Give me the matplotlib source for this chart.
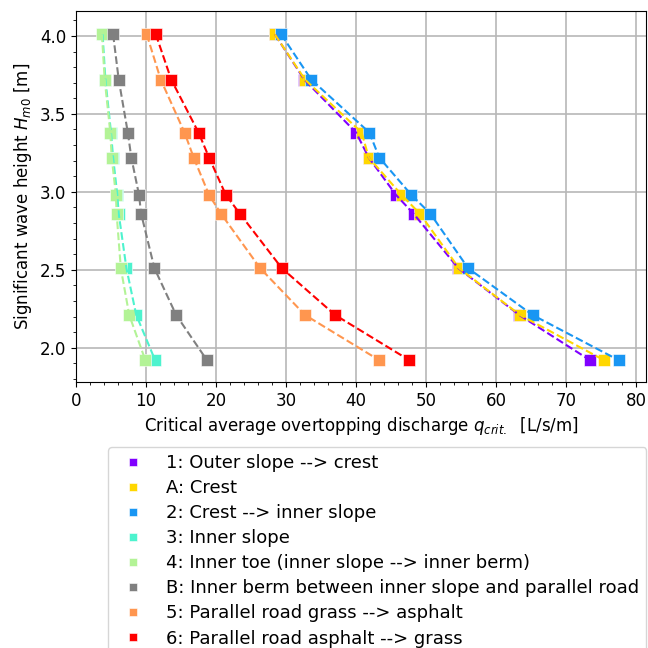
import numpy as np
import matplotlib
matplotlib.use("Agg")
import matplotlib.pyplot as plt
from matplotlib.ticker import MultipleLocator

# Wave heights (rows)
hm0 = [4.01, 3.72, 3.38, 3.22, 2.98, 2.86, 2.51, 2.21, 1.92]

labels = [
    "1: Outer slope --> crest",
    "A: Crest",
    "2: Crest --> inner slope",
    "3: Inner slope",
    "4: Inner toe (inner slope --> inner berm)",
    "B: Inner berm between inner slope and parallel road",
    "5: Parallel road grass --> asphalt",
    "6: Parallel road asphalt --> grass",
]

q_1_outer_crest = [28.4, 32.6, 40.0, 41.8, 45.7, 48.2, 54.6, 63.3, 73.4]
q_A_crest = [28.4, 32.7, 40.8, 41.8, 46.5, 49.1, 54.7, 63.4, 75.4]
q_2_crest_inner = [29.3, 33.6, 41.9, 43.3, 47.9, 50.6, 56.0, 65.2, 77.5]
q_3_inner_slope = [3.8, 4.2, 5.0, 5.3, 5.9, 6.1, 7.2, 8.6, 11.3]
q_4_inner_toe = [3.7, 4.1, 4.9, 5.1, 5.7, 5.8, 6.4, 7.6, 9.9]
q_B_inner_berm = [5.3, 6.1, 7.4, 7.9, 9.0, 9.3, 11.2, 14.3, 18.7]
q_5_road_grass_asphalt = [10.1, 12.1, 15.5, 16.8, 19.0, 20.7, 26.3, 32.7, 43.3]
q_6_road_asphalt_grass = [11.4, 13.6, 17.5, 19.0, 21.4, 23.4, 29.4, 37.0, 47.6]

series = [q_1_outer_crest, q_A_crest, q_2_crest_inner, q_3_inner_slope,
          q_4_inner_toe, q_B_inner_berm, q_5_road_grass_asphalt,
          q_6_road_asphalt_grass]

rb = plt.cm.rainbow(np.linspace(0, 1, 6))
colors = [rb[0], "gold", rb[1], rb[2], rb[3], "gray", rb[4], rb[5]]

plt.rcParams['font.family'] = ['DejaVu Sans']
plt.rcParams['font.size'] = 12

fig = plt.figure(figsize=(6.48, 6.48), dpi=100)
ax = fig.add_axes([76/648, 1-382/648, 570/648, 371/648])

for q, c, lab in zip(series, colors, labels):
    ax.plot(q, hm0, ls='', marker='s', ms=9, color=c, mec='white', mew=0.4,
            label=lab, zorder=3)
for q, c in zip(series, colors):
    ax.plot(q, hm0, ls='--', lw=1.5, color=c, zorder=4)

ax.set_xlim(0, 81.4)
ax.set_ylim(1.78, 4.16)
ax.xaxis.set_major_locator(MultipleLocator(10))
ax.xaxis.set_minor_locator(MultipleLocator(2))
ax.yaxis.set_major_locator(MultipleLocator(0.5))
ax.yaxis.set_minor_locator(MultipleLocator(0.1))
ax.grid(True, which='major', color='#b8b8b8', lw=1.2)
ax.set_axisbelow(True)
ax.tick_params(labelsize=12)

ax.set_xlabel(r"Critical average overtopping discharge $q_{crit.}$  [L/s/m]", fontsize=12)
ax.set_ylabel(r"Significant wave height $H_{m0}$ [m]", fontsize=12)

fig.legend(loc='upper left', bbox_to_anchor=(108/648, 1-447/648),
           borderaxespad=0, fontsize=13, markerscale=0.65, labelspacing=0.39)

fig.savefig("out.png", dpi=100)
